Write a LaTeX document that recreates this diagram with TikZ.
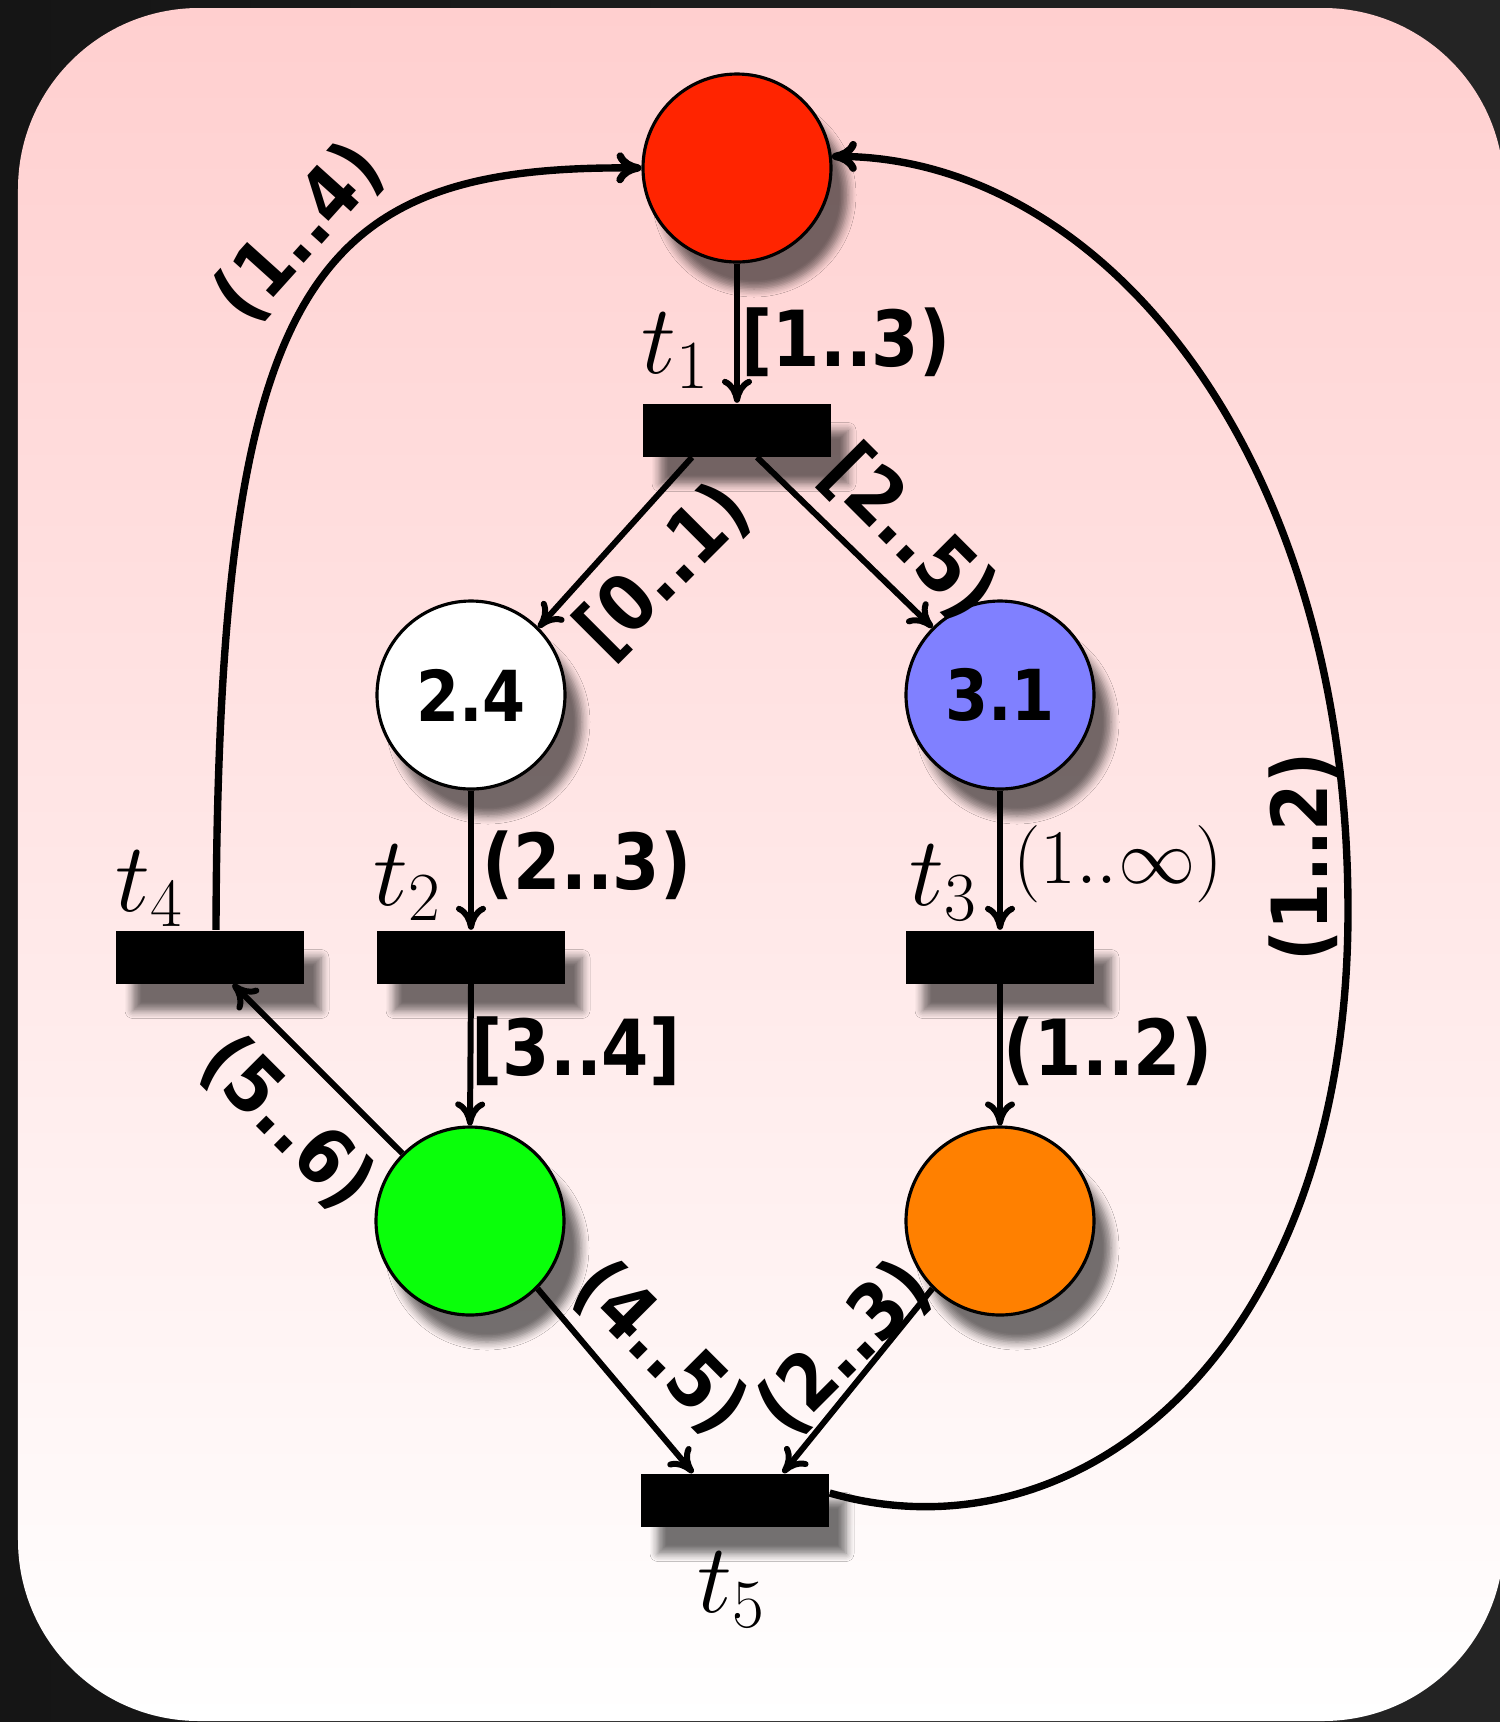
\RequirePackage{fix-cm}
\documentclass[tikz,border=0pt]{standalone}
\usepackage{fontspec}
\newfontfamily\lblfont[FakeStretch=0.88]{DejaVu Sans}
\usetikzlibrary{arrows.meta,calc,shadows.blur}
\definecolor{bgdarkL}{RGB}{21,21,21}
\definecolor{bgdarkR}{RGB}{36,36,36}
\definecolor{pinktop}{RGB}{255,207,207}
\definecolor{pred}{RGB}{255,36,0}
\definecolor{pblue}{RGB}{128,128,255}
\definecolor{pgreen}{RGB}{10,255,10}
\definecolor{porange}{RGB}{255,128,0}
\tikzset{
  shad/.style={blur shadow={shadow xshift=0.17cm, shadow yshift=-0.27cm, shadow blur radius=0.08cm, shadow blur steps=6, shadow opacity=55}},
  place/.style={circle, draw=black, line width=0.9pt, minimum size=1.88cm, inner sep=0pt, shad,
    font=\lblfont\bfseries\fontsize{20}{24}\selectfont},
  trans/.style={rectangle, fill=black, minimum width=1.88cm, minimum height=0.53cm, inner sep=0pt, shad},
  arc/.style={line width=1.7pt, -{To[length=2.4mm,width=3mm]}},
  bigarc/.style={line width=2.1pt, -{To[length=2.5mm,width=3.1mm]}},
  lbl/.style={font=\lblfont\bfseries\fontsize{22}{26}\selectfont, inner sep=0pt},
  mlbl/.style={font=\fontsize{22}{26}\selectfont, inner sep=0pt},
  tlbl/.style={font=\fontsize{28}{34}\selectfont, inner sep=0pt},
}
\begin{document}
\begin{tikzpicture}
\useasboundingbox (0,0) rectangle (15,-17.22);
\shade[left color=bgdarkL, right color=bgdarkR] (0,0) rectangle (15,-17.22);
\shade[top color=pinktop, bottom color=white, rounded corners=1.81cm] (0.18,-0.08) rectangle (15.04,-17.21);

% places
\node[place, fill=pred] (red) at (7.37,-1.68) {};
\node[place, fill=white] (white) at (4.71,-6.95) {2.4};
\node[place, fill=pblue] (blue) at (10.00,-6.95) {3.1};
\node[place, fill=pgreen] (green) at (4.70,-12.21) {};
\node[place, fill=porange] (orange) at (10.00,-12.21) {};

% transitions
\node[trans] (t1) at (7.37,-4.30) {};
\node[trans] (t2) at (4.71,-9.57) {};
\node[trans] (t3) at (10.00,-9.57) {};
\node[trans] (t4) at (2.10,-9.57) {};
\node[trans] (t5) at (7.35,-15.00) {};

% transition names
\node[tlbl] (t1l) at (6.76,-3.51) {$t_1$};
\node[tlbl] (t2l) at (4.08,-8.83) {$t_2$};
\node[tlbl] (t3l) at (9.44,-8.83) {$t_3$};
\node[tlbl] (t4l) at (1.50,-8.89) {$t_4$};
\node[tlbl] (t5l) at (7.32,-15.90) {$t_5$};

% straight arcs
\draw[arc] (red.south) -- (t1.north);
\draw[arc] ($(t1.south)+(-0.45,0)$) -- (white.45);
\draw[arc] ($(t1.south)+(0.20,0)$) -- (blue.135);
\draw[arc] (white.south) -- (t2.north);
\draw[arc] (t2.south) -- (green.north);
\draw[arc] (blue.south) -- (t3.north);
\draw[arc] (t3.south) -- (orange.north);
\draw[arc] (green.135) -- ($(t4.south)+(0.23,0)$);
\draw[arc] (green.-45) -- ($(t5.north)+(-0.42,0)$);
\draw[arc] (orange.-135) -- ($(t5.north)+(0.48,0)$);

% curved arcs
\coordinate (rmax) at (13.48,-9.11);
\draw[bigarc] ($(t4.north)+(0.06,0)$) .. controls (2.18,-2.80) and (3.10,-1.65) .. (red.west);
\draw[bigarc] ($(t5.east)+(0,0.07)$) .. controls (10.8,-15.65) and (13.48,-13.5) .. (rmax)
   .. controls (13.48,-4.5) and (11.0,-1.57) .. (red.7);

% arc labels
\node[lbl] (l13) at (8.46,-3.42) {[1..3)};
\node[lbl, rotate=45] (l01) at (6.64,-5.71) {[0..1)};
\node[lbl, rotate=-45] (l25) at (9.09,-5.33) {[2..5)};
\node[lbl] (l23a) at (5.87,-8.65) {(2..3)};
\node[lbl] (l34) at (5.76,-10.51) {[3..4]};
\node[mlbl] (l1inf) at (11.18,-8.64) {$(1..\infty)$};
\node[lbl] (l12a) at (11.08,-10.51) {(1..2)};
\node[lbl, rotate=-45] (l56) at (2.87,-11.23) {(5..6)};
\node[lbl, rotate=-45] (l45) at (6.60,-13.48) {(4..5)};
\node[lbl, rotate=45] (l23b) at (8.45,-13.48) {(2..3)};
\node[lbl, rotate=48] (l14) at (2.99,-2.33) {(1..4)};
\node[lbl, rotate=90] (l12b) at (13.03,-8.57) {(1..2)};
\end{tikzpicture}
\end{document}
